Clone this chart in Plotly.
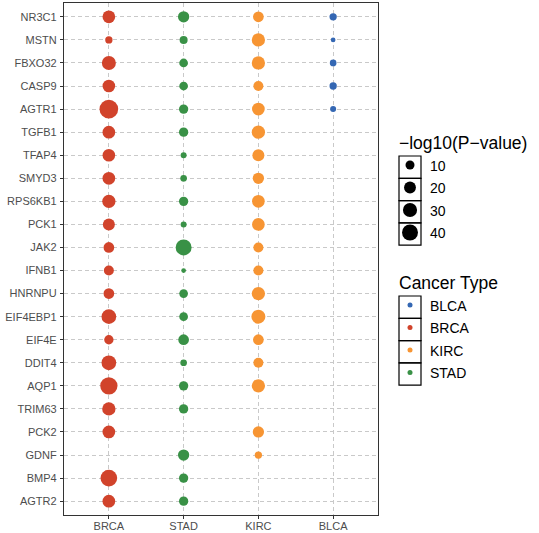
import numpy as np
import plotly.graph_objects as go

genes = ["NR3C1", "MSTN", "FBXO32", "CASP9", "AGTR1", "TGFB1", "TFAP4", "SMYD3",
         "RPS6KB1", "PCK1", "JAK2", "IFNB1", "HNRNPU", "EIF4EBP1", "EIF4E", "DDIT4",
         "AQP1", "TRIM63", "PCK2", "GDNF", "BMP4", "AGTR2"]
cancer_order = ["BRCA", "STAD", "KIRC", "BLCA"]

# -log10(P-value) per gene (None = not shown)
brca = [23.4, 5.8, 29.5, 23.0, 57.0, 23.4, 23.0, 23.4, 26.1, 20.5, 15.5, 13.1,
        15.5, 33.0, 11.0, 33.0, 48.0, 26.1, 23.4, None, 44.2, 23.4]
stad = [17.7, 7.4, 9.2, 9.2, 10.9, 10.9, 3.3, 4.5, 10.9, 3.3, 40.0, 1.5,
        9.2, 9.2, 15.5, 4.5, 10.9, 10.9, None, 17.7, 10.9, 10.9]
kirc = [15.5, 26.1, 26.1, 13.1, 23.4, 26.1, 20.5, 17.7, 23.4, 23.4, 13.1, 13.1,
        26.1, 29.5, 15.5, 13.1, 26.1, None, 17.7, 5.8, None, None]
blca = [5.8, 1.5, 4.5, 5.8, 3.3, None, None, None, None, None, None, None,
        None, None, None, None, None, None, None, None, None, None]

size_breaks = [10, 20, 30, 40]
legend_cancers = ["BLCA", "BRCA", "KIRC", "STAD"]

colors = {"BLCA": "#3467B3", "BRCA": "#D1432B", "KIRC": "#F79533", "STAD": "#399146"}
series = {"BRCA": brca, "STAD": stad, "KIRC": kirc, "BLCA": blca}


def dot_size(v):
    return 2.0 + 2.21 * np.sqrt(v)


FONT = "Liberation Sans, Arial, Helvetica, sans-serif"
W, H = 539, 533
ML, MR, MT, MB = 64, 161, 3, 18
PW, PH = W - ML - MR, H - MT - MB

fig = go.Figure()

for c in cancer_order:
    vals = series[c]
    ys = [g for g, v in zip(genes, vals) if v is not None]
    vs = [v for v in vals if v is not None]
    fig.add_trace(go.Scatter(
        x=[c] * len(ys), y=ys, mode="markers",
        marker=dict(color=colors[c], size=[dot_size(v) for v in vs], line=dict(width=0), opacity=1),
        showlegend=False, hovertemplate="%{y} %{x}<extra></extra>",
    ))

LABEL = "<span style='font-size:14px'>{}</span>"

for v in size_breaks:
    fig.add_trace(go.Scatter(
        x=[None], y=[None], mode="markers",
        marker=dict(color="black", size=dot_size(v), line=dict(width=0)),
        name=LABEL.format(v), legend="legend",
    ))

for c in legend_cancers:
    fig.add_trace(go.Scatter(
        x=[None], y=[None], mode="markers",
        marker=dict(color=colors[c], size=5, line=dict(width=0)),
        name=LABEL.format(c), legend="legend2",
    ))

# legend geometry (pixels)
leg_left = 397
leg1_top = 126
leg2_top = 266


def px_x(p):
    return (p - ML) / PW


def px_y(p):
    return (H - MB - p) / PH


legend_common = dict(
    xanchor="left", yanchor="top", itemsizing="trace", tracegroupgap=0,
    bgcolor="rgba(0,0,0,0)", borderwidth=0, indentation=-7,
    font=dict(family=FONT, size=15, color="black"),
    itemclick=False, itemdoubleclick=False,
)

axis_common = dict(
    type="category", automargin=False,
    showgrid=True, gridcolor="#C9C9C9", gridwidth=1, griddash="4px,3px",
    showline=True, linecolor="#333333", linewidth=1.3, mirror=True,
    ticks="outside", ticklen=3, tickwidth=1, tickcolor="#333333",
    tickfont=dict(size=11, color="#4D4D4D", family=FONT),
    zeroline=False, fixedrange=True,
)

fig.update_layout(
    width=W, height=H,
    margin=dict(l=ML, r=MR, t=MT, b=MB, pad=0, autoexpand=False),
    paper_bgcolor="white", plot_bgcolor="white",
    font=dict(family=FONT, color="#4D4D4D"),
    xaxis=dict(categoryorder="array", categoryarray=cancer_order,
               range=[-0.6, len(cancer_order) - 0.4], ticklabelstandoff=-2, **axis_common),
    yaxis=dict(categoryorder="array", categoryarray=genes[::-1],
               range=[-0.6, len(genes) - 0.4], ticklabelstandoff=1, **axis_common),
    legend=dict(x=px_x(leg_left), y=px_y(leg1_top),
                title=dict(text="−log10(P−value)", font=dict(family=FONT, size=17.5, color="black")),
                **legend_common),
    legend2=dict(x=px_x(leg_left), y=px_y(leg2_top),
                 title=dict(text="Cancer Type", font=dict(family=FONT, size=17.5, color="black")),
                 **legend_common),
)

# key boxes around legend symbols
shapes = []
box_l, box_r = 399, 421
for top, n in [(156, len(size_breaks)), (296, len(legend_cancers))]:
    for i in range(n):
        y0 = top + i * 22.3
        shapes.append(dict(type="rect", xref="paper", yref="paper",
                           x0=px_x(box_l), x1=px_x(box_r), y0=px_y(y0), y1=px_y(y0 + 22.3),
                           line=dict(color="black", width=1.2), fillcolor="rgba(0,0,0,0)", layer="above"))
fig.update_layout(shapes=shapes)

fig.write_html("out.html",
               config={"displayModeBar": False},
               post_script="document.body.style.margin='0';document.body.style.padding='0';"
                           "document.body.style.overflow='hidden';")
